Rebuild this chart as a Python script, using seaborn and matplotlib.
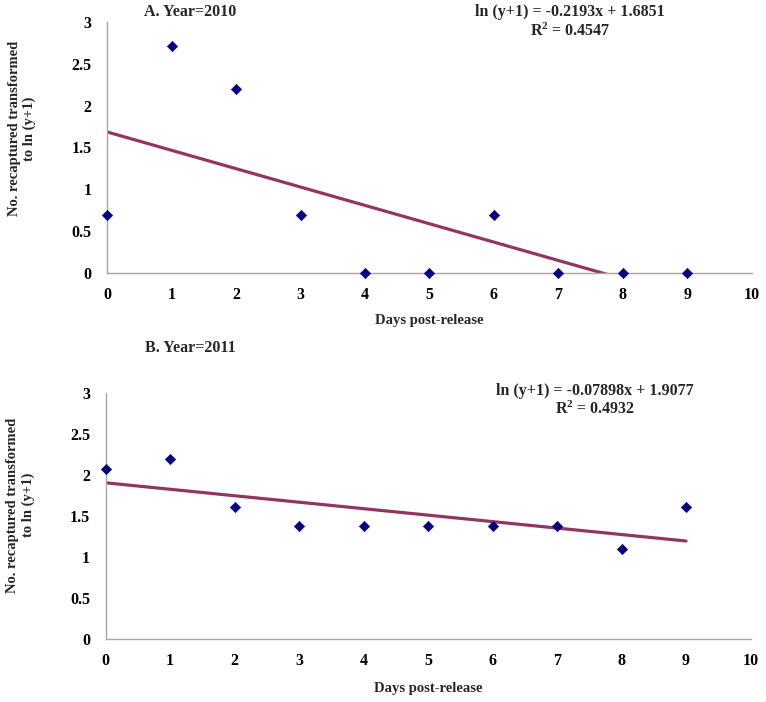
import matplotlib
matplotlib.use("Agg")
import matplotlib.pyplot as plt
from matplotlib.ticker import FuncFormatter
import seaborn as sns
import pandas as pd
import numpy as np

days = [0, 1, 2, 3, 4, 5, 6, 7, 8, 9]
ln_2010 = [0.693, 2.708, 2.197, 0.693, 0.0, 0.0, 0.693, 0.0, 0.0, 0.0]
ln_2011 = [2.079, 2.197, 1.609, 1.386, 1.386, 1.386, 1.386, 1.386, 1.099, 1.609]

# trend line coefficients (slope, intercept) as printed on the chart
fit_2010 = (-0.2193, 1.6851)
fit_2011 = (-0.07898, 1.9077)

titles = ["A. Year=2010", "B. Year=2011"]
equations = ["ln (y+1) = -0.2193x + 1.6851", "ln (y+1) = -0.07898x + 1.9077"]
r2_text = ["R$^2$ = 0.4547", "R$^2$ = 0.4932"]

sns.set_style("white")
plt.rcParams['font.family'] = ['Liberation Serif', 'DejaVu Serif']
plt.rcParams['font.weight'] = 'bold'
plt.rcParams['mathtext.fontset'] = 'custom'
plt.rcParams['mathtext.rm'] = 'Liberation Serif:bold'
plt.rcParams['mathtext.it'] = 'Liberation Serif:bold'
plt.rcParams['mathtext.bf'] = 'Liberation Serif:bold'

fig = plt.figure(figsize=(7.66, 7.02), dpi=100)
ax_a = fig.add_axes([0.1397, 0.611, 0.842, 0.358])
ax_b = fig.add_axes([0.1378, 0.0897, 0.842, 0.350])

marker_col = "#000080"
line_col = "#933560"

# label positions in axes coords: (xlabel y, ylabel y)
label_pos = [(-0.19, 0.574), (-0.203, 0.545)]

for ax, vals, fit, pos in zip([ax_a, ax_b], [ln_2010, ln_2011], [fit_2010, fit_2011], label_pos):
    df = pd.DataFrame({"day": days, "val": vals})
    xs = np.array([days[0], days[-1]])
    trend = pd.DataFrame({"day": xs, "val": fit[0] * xs + fit[1]})
    sns.lineplot(data=trend, x="day", y="val", ax=ax, color=line_col, linewidth=2.3)
    sns.scatterplot(data=df, x="day", y="val", ax=ax, marker="D", s=28,
                    color=marker_col, edgecolor=marker_col, zorder=3, clip_on=False)
    ax.set_xlim(0, 10)
    ax.set_ylim(0, 3)
    ax.set_xticks(range(0, 11))
    ax.set_yticks([0, 0.5, 1, 1.5, 2, 2.5, 3])
    ax.yaxis.set_major_formatter(FuncFormatter(lambda v, p: "%g" % v))
    for s in ["top", "right"]:
        ax.spines[s].set_visible(False)
    for s in ["left", "bottom"]:
        ax.spines[s].set_color("#a6a6a6")
        ax.spines[s].set_linewidth(1.0)
    ax.tick_params(axis="y", colors="#a6a6a6", length=3, width=1, direction="out",
                   labelcolor="black", labelsize=11.5, pad=8)
    ax.tick_params(axis="x", colors="#a6a6a6", length=3, width=1, direction="in",
                   labelcolor="black", labelsize=11.5, pad=10)
    for lab in ax.get_xticklabels() + ax.get_yticklabels():
        lab.set_fontweight("bold")
    ax.set_xlabel("Days post-release", fontsize=10.5, fontweight="bold", va="center")
    ax.xaxis.set_label_coords(0.5, pos[0])
    ax.set_ylabel("No. recaptured transformed\nto ln (y+1)", fontsize=10.5,
                  fontweight="bold", va="center", ha="center")
    ax.yaxis.set_label_coords(-0.132, pos[1])

fig.text(190 / 766, 1 - 12 / 702, titles[0], ha="center", va="center", fontsize=11.5, fontweight="bold")
fig.text(570 / 766, 1 - 12 / 702, equations[0], ha="center", va="center", fontsize=11.5, fontweight="bold")
fig.text(570 / 766, 1 - 31 / 702, r2_text[0], ha="center", va="center", fontsize=11.5, fontweight="bold")

fig.text(190 / 766, 1 - 348 / 702, titles[1], ha="center", va="center", fontsize=11.5, fontweight="bold")
fig.text(595 / 766, 1 - 391 / 702, equations[1], ha="center", va="center", fontsize=11.5, fontweight="bold")
fig.text(595 / 766, 1 - 409 / 702, r2_text[1], ha="center", va="center", fontsize=11.5, fontweight="bold")

fig.savefig("out.png", dpi=100)
